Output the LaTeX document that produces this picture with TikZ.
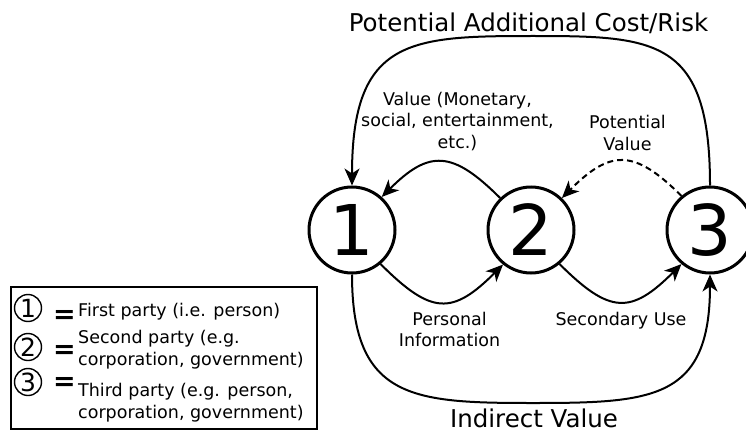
\documentclass[tikz,border=0pt]{standalone}
\usepackage{fontspec}
\setmainfont{DejaVu Sans}
\usetikzlibrary{positioning,arrows.meta}

\tikzset{
  party/.style={circle, draw, line width=3pt, minimum size=86pt, inner sep=0pt,
    font=\fontsize{70}{70}\selectfont},
  keyparty/.style={circle, draw, line width=1.4pt, minimum size=27pt, inner sep=0pt,
    font=\fontsize{25}{25}\selectfont},
  flow/.style={line width=2pt, -{Stealth[length=17pt,width=15pt,inset=5pt]}},
  lbl/.style={font=\fontsize{17.5}{21.5}\selectfont, align=center, inner sep=0pt},
  keylbl/.style={font=\fontsize{17.5}{21.5}\selectfont, align=left, inner sep=0pt},
  heading/.style={font=\fontsize{24.5}{29}\selectfont, inner sep=0pt},
}

\begin{document}
\begin{tikzpicture}[x=1pt,y=1pt]
        \useasboundingbox (0,0) rectangle (746,432);
        % the three parties
        \node[party] (c1) at (352,202) {1};
        \node[party, right=90pt of c1] (c2) {2};
        \node[party, right=90pt of c2] (c3) {3};

        % flows between neighbours
        \draw[flow] (c1.-50) to[out=-45, in=-135, looseness=1.5] (c2.-129);
        \draw[flow] (c2.134) to[out=135, in=45, looseness=1.45] (c1.48);
        \draw[flow] (c2.-50) to[out=-45, in=-135, looseness=1.5] (c3.-130);
        \draw[flow, dashed, dash pattern=on 6pt off 4pt] (c3.130) to[out=135, in=45, looseness=1.45] (c2.46);

        % outer loops
        \coordinate (costtop) at (533,396);
        \coordinate (valuebottom) at (533,29);
        \draw[flow] (c3.north) .. controls +(0,147) and +(123,0) .. (costtop)
            .. controls +(-123,0) and +(0,147) .. (c1.north);
        \draw[flow] (c1.south) .. controls +(0,-125) and +(-120,0) .. (valuebottom)
            .. controls +(120,0) and +(0,-125) .. (c3.south);

        % labels (base = last line)
        \node[heading, anchor=base] (costlbl) at (528.5,400) {Potential Additional Cost/Risk};
        \node[heading, anchor=base] (indirectlbl) at (534,4.5) {Indirect Value};
        \node[lbl, anchor=base] (valuelbl) at (457.5,283.7) {Value (Monetary,\\social, entertainment,\\etc.)};
        \node[lbl, anchor=base] (potlbl) at (627.5,282) {Potential\\Value};
        \node[lbl, anchor=base] (infolbl) at (449.5,85.3) {Personal\\Information};
        \node[lbl, anchor=base] (uselbl) at (621,107) {Secondary Use};

        % key
        \draw[line width=2.5pt] (11,3) rectangle (317,145);
        \node[keyparty] (k1) at (28,124) {1};
        \node[keyparty] (k2) at (28,85) {2};
        \node[keyparty] (k3) at (28,50) {3};
        \foreach \k/\y in {1/109, 2/74, 3/42}
            \node[font=\fontsize{27}{27}\selectfont\bfseries, inner sep=0pt, anchor=base] (eq\k) at (64.5,\y) {=};
        \node[keylbl, anchor=base west] (t1) at (78,115.3) {First party (i.e. person)};
        \node[keylbl, anchor=base west] (t2) at (78,67) {Second party (e.g.\\corporation, government)};
        \node[keylbl, anchor=base west] (t3) at (78,14) {Third party (e.g. person,\\corporation, government)};
\end{tikzpicture}
\end{document}
